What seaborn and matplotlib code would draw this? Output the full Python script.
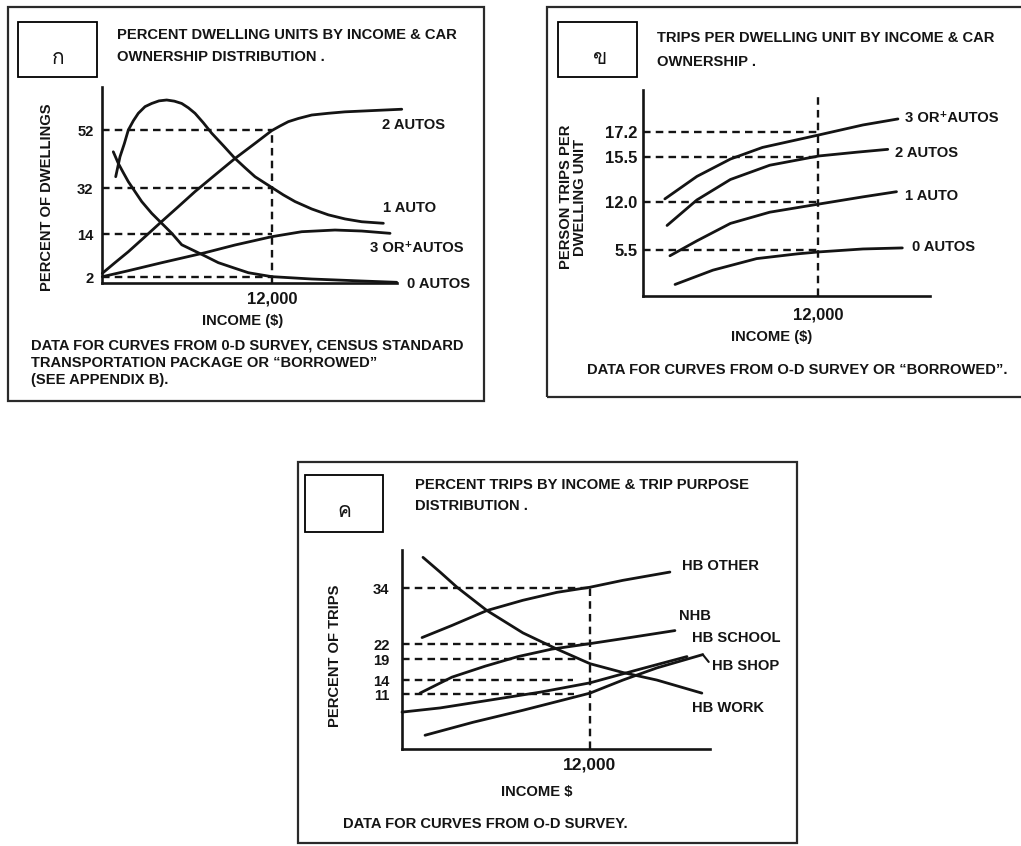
import numpy as np
import pandas as pd
import matplotlib
matplotlib.use("Agg")
import matplotlib.pyplot as plt
import seaborn as sns
from matplotlib import font_manager, ft2font
from matplotlib.patches import Rectangle

# ---------------------------------------------------------------- data
INCOME_MARK = 12000
INCOME_LABEL = "12,000"

# Panel ก : percent of dwellings by income & car ownership
A_TICKS = [2, 14, 32, 52]
A_SCALE_V = [0, 2, 14, 32, 52, 70]          # schematic (non-linear) value axis
A_SCALE_P = [0, 6, 49, 95, 153, 205]
A_0_X = [797, 1150, 1503, 1856, 2329, 2802, 3507, 4213, 4919, 5625, 7269, 8208,
         9386, 10325, 11270, 11976, 14799, 18327, 20797]
A_0_Y = [44.5, 40.5, 37.3, 34.2, 30.6, 26.7, 22.1, 18.2, 14.3, 11.0, 7.86, 6.0,
         4.43, 3.2, 2.56, 2.1, 1.33, 0.67, 0.23]
A_1_X = [967, 1270, 1575, 1856, 2211, 2562, 3035, 3507, 4023, 4566, 5105, 5625,
         6093, 6563, 7152, 7742, 8564, 9386, 10092, 10798, 11976, 12798, 13620,
         14799, 15970, 17149, 18327, 19852]
A_1_Y = [35.9, 42.8, 47.3, 52.0, 55.2, 57.8, 60.1, 61.2, 62.1, 62.4, 62.0, 61.2,
         59.7, 57.8, 54.5, 50.9, 46.6, 42.2, 39.0, 35.9, 32.2, 29.3, 26.7,
         23.8, 21.5, 19.9, 18.8, 18.2]
A_2_X = [21, 917, 1856, 3035, 4213, 5385, 6563, 7975, 9386, 10798, 11976, 12562,
         13148, 13853, 14799, 15970, 17149, 21150]
A_2_Y = [3.03, 6.0, 9.05, 13.25, 18.9, 24.7, 30.6, 36.5, 42.2, 47.4, 51.8, 53.4,
         54.9, 56.0, 57.2, 57.8, 58.3, 59.2]
A_3_X = [21, 1856, 4213, 7269, 9386, 11976, 14094, 16443, 18327, 20325]
A_3_Y = [2.08, 3.75, 5.99, 8.78, 10.93, 13.25, 14.90, 15.56, 15.17, 14.27]

# Panel ข : person trips per dwelling unit by income & car ownership
B_TICKS = [5.5, 12.0, 15.5, 17.2]
B_TICKLABELS = ["5.5", "12.0", "15.5", "17.2"]
B_SCALE_V = [0, 5.5, 12, 15.5, 17.2, 20]
B_SCALE_P = [0, 46, 94, 139, 164, 206]
B_0_X = [2200, 4800, 7800, 10600, 12070, 15100, 17800]
B_0_Y = [1.38, 3.09, 4.47, 5.04, 5.27, 5.64, 5.78]
B_1_X = [1850, 3700, 6000, 8700, 12070, 15100, 17400]
B_1_Y = [4.81, 6.74, 9.10, 10.62, 11.72, 12.40, 12.80]
B_2_X = [1650, 3700, 6000, 8700, 12070, 14700, 16800]
B_2_Y = [8.82, 12.16, 13.75, 14.86, 15.57, 15.83, 16.02]
B_3_X = [1500, 3700, 6000, 8200, 12070, 15100, 17500]
B_3_Y = [12.24, 13.99, 15.34, 16.15, 17.0, 17.67, 18.07]
B_VLINE_TOP = 19.5

# Panel ค : percent trips by income & trip purpose
C_TICKS = [11, 14, 19, 22, 34]
C_SCALE_V = [-1, 11, 14, 19, 22, 34, 44]
C_SCALE_P = [-0.6, 55, 69, 90, 105, 161, 207]
C_DASH_END = [11000, 10900, 11200, 12000, 12000]
C_OTHER_X = [1280, 3190, 5420, 7720, 9890, 12000, 14100, 17100]
C_OTHER_Y = [23.4, 26.0, 29.2, 31.4, 33.1, 34.2, 35.7, 37.5]
C_NHB_X = [1150, 3190, 5300, 7400, 9570, 12000, 14550, 17420]
C_NHB_Y = [11.2, 14.7, 17.3, 19.5, 21.0, 22.1, 23.4, 24.9]
C_SCHOOL_X = [0, 2430, 5620, 8810, 12000, 15190, 18190]
C_SCHOOL_Y = [7.1, 8.0, 9.7, 11.4, 13.4, 16.6, 19.5]
C_SHOP_X = [1470, 4530, 7720, 10270, 12000, 14100, 16270, 19200]
C_SHOP_Y = [2.1, 4.9, 7.5, 9.7, 11.2, 14.0, 16.9, 19.9]
C_WORK_X = [1340, 2430, 3510, 5420, 7720, 9890, 12000, 14100, 16270, 19140]
C_WORK_Y = [40.7, 37.5, 34.2, 29.2, 24.4, 21.0, 17.9, 15.8, 14.0, 11.2]

# ---------------------------------------------------------------- style
sns.set_style("white")
FONT = ["Liberation Sans", "DejaVu Sans"]
plt.rcParams["font.family"] = FONT
plt.rcParams["font.weight"] = "bold"
INK = "#141414"
FS = 10.6


def thai_font():
    for f in font_manager.fontManager.ttflist:
        try:
            if 0x0E01 in ft2font.FT2Font(f.fname).get_charmap():
                return f.name
        except Exception:
            continue
    return "DejaVu Sans"


THAI = [thai_font(), "DejaVu Sans"]

W, H = 1021, 846
fig = plt.figure(figsize=(W / 100, H / 100), dpi=100)
fig.patch.set_facecolor("white")


def ptext(x, y, s, size=FS, ha="left", va="center", rot=0, family=None,
          weight="bold", **kw):
    return fig.text(x / W, 1 - y / H, s, fontsize=size, ha=ha, va=va,
                    rotation=rot, family=family or FONT, color=INK,
                    fontweight=weight, **kw)


def frame(l, t, r, b, lw=1.6, ec="#2a2a2a"):
    fig.add_artist(Rectangle((l / W, 1 - b / H), (r - l) / W, (b - t) / H,
                             transform=fig.transFigure, fill=False, lw=lw,
                             ec=ec, clip_on=False))


def piecewise(V, P):
    V = np.asarray(V, float)
    P = np.asarray(P, float)
    s0 = (P[1] - P[0]) / (V[1] - V[0])
    s1 = (P[-1] - P[-2]) / (V[-1] - V[-2])

    def fwd(v):
        v = np.asarray(v, float)
        out = np.interp(v, V, P)
        out = np.where(v < V[0], P[0] + (v - V[0]) * s0, out)
        return np.where(v > V[-1], P[-1] + (v - V[-1]) * s1, out)

    def inv(p):
        p = np.asarray(p, float)
        out = np.interp(p, P, V)
        out = np.where(p < P[0], V[0] + (p - P[0]) / s0, out)
        return np.where(p > P[-1], V[-1] + (p - P[-1]) / s1, out)

    return fwd, inv


def make_axes(l, t, r, b, V, P):
    ax = fig.add_axes([l / W, 1 - b / H, (r - l) / W, (b - t) / H])
    ax.set_facecolor("none")
    ax.set_yscale("function", functions=piecewise(V, P))
    return ax


def finish_axes(ax, xlim, ylim, ticks, labels, spine_end, ypad, xpad, ysize, xsize):
    ax.set_xlim(*xlim)
    ax.set_ylim(*ylim)
    ax.set_yticks(ticks)
    ax.set_yticklabels(labels)
    ax.set_xticks([INCOME_MARK])
    ax.set_xticklabels([INCOME_LABEL])
    ax.tick_params(axis="y", length=0, labelsize=ysize, pad=ypad, colors=INK)
    ax.tick_params(axis="x", length=0, labelsize=xsize, pad=xpad, colors=INK)
    for lbl in ax.get_xticklabels() + ax.get_yticklabels():
        lbl.set_fontweight("bold")
    ax.minorticks_off()
    for s in ("top", "right"):
        ax.spines[s].set_visible(False)
    for s in ("left", "bottom"):
        ax.spines[s].set_linewidth(1.9)
        ax.spines[s].set_color(INK)
    ax.spines["bottom"].set_bounds(0, spine_end)
    ax.set_xlabel("")
    ax.set_ylabel("")
    ax.grid(False)


def curves(ax, series):
    rows = []
    for name, xs, ys in series:
        rows += [{"income": x, "value": y, "series": name} for x, y in zip(xs, ys)]
    df = pd.DataFrame(rows)
    sns.lineplot(data=df, x="income", y="value", units="series", estimator=None,
                 color=INK, lw=2.0, sort=False, ax=ax, legend=False,
                 solid_capstyle="round", solid_joinstyle="round")
    for line in ax.lines:
        line.set_clip_on(False)


def dashed(ax, xs, ys):
    ax.plot(xs, ys, color=INK, lw=1.7, dashes=(3.2, 2.2), clip_on=False)


# ================================================================ panel ก
frame(8, 7, 484, 401)
frame(18, 22, 97, 77, lw=1.3, ec="black")
ptext(58, 58, "ก", size=15, ha="center", family=THAI, weight="normal")
ptext(117, 35, "PERCENT DWELLING UNITS BY INCOME & CAR")
ptext(117, 57, "OWNERSHIP DISTRIBUTION .")

axA = make_axes(102, 87, 406.7, 283, A_SCALE_V, A_SCALE_P)
for lvl in A_TICKS:
    dashed(axA, [0, INCOME_MARK], [lvl, lvl])
dashed(axA, [INCOME_MARK, INCOME_MARK], [0, max(A_TICKS)])
curves(axA, [("0 AUTOS", A_0_X, A_0_Y), ("1 AUTO", A_1_X, A_1_Y),
             ("2 AUTOS", A_2_X, A_2_Y), ("3 OR+ AUTOS", A_3_X, A_3_Y)])
finish_axes(axA, (0, 21500), (0, 66.9), A_TICKS, [str(t) for t in A_TICKS],
            20800, 6, 6, FS, 12)

ptext(382, 125, "2 AUTOS")
ptext(383, 208, "1 AUTO")
ptext(370, 248, "3 OR⁺AUTOS")
ptext(407, 284, "0 AUTOS")
ptext(243, 321, "INCOME ($)", ha="center")
ptext(47, 197, "PERCENT OF DWELLINGS", rot=90, ha="center")
ptext(31, 345, "DATA FOR CURVES FROM 0-D SURVEY, CENSUS STANDARD")
ptext(31, 363, "TRANSPORTATION PACKAGE OR “BORROWED”")
ptext(31, 380, "(SEE APPENDIX B).")

# ================================================================ panel ข
frame(547, 7, 1030, 397)
frame(558, 22, 637, 77, lw=1.3, ec="black")
ptext(600, 58, "ข", size=15, ha="center", family=THAI, weight="normal")
ptext(657, 38, "TRIPS PER DWELLING UNIT BY INCOME & CAR")
ptext(657, 62, "OWNERSHIP .")

axB = make_axes(643, 90, 930, 296, B_SCALE_V, B_SCALE_P)
for lvl in B_TICKS:
    dashed(axB, [0, INCOME_MARK], [lvl, lvl])
dashed(axB, [INCOME_MARK, INCOME_MARK], [0, B_VLINE_TOP])
curves(axB, [("0 AUTOS", B_0_X, B_0_Y), ("1 AUTO", B_1_X, B_1_Y),
             ("2 AUTOS", B_2_X, B_2_Y), ("3 OR+ AUTOS", B_3_X, B_3_Y)])
finish_axes(axB, (0, 19700), (0, 20), B_TICKS, B_TICKLABELS, 19700, 4, 8, 12, 12)

ptext(905, 118, "3 OR⁺AUTOS")
ptext(895, 153, "2 AUTOS")
ptext(905, 196, "1 AUTO")
ptext(912, 247, "0 AUTOS")
ptext(772, 337, "INCOME ($)", ha="center")
ptext(573, 197, "PERSON TRIPS PER\nDWELLING UNIT", rot=90, ha="center",
      multialignment="center", linespacing=0.95)
ptext(587, 370, "DATA FOR CURVES FROM O-D SURVEY OR “BORROWED”.")

# ================================================================ panel ค
frame(298, 462, 797, 843)
frame(305, 475, 383, 532, lw=1.3, ec="black")
ptext(344, 511, "ค", size=15, ha="center", family=THAI, weight="normal")
ptext(415, 485, "PERCENT TRIPS BY INCOME & TRIP PURPOSE")
ptext(415, 506, "DISTRIBUTION .")

axC = make_axes(402, 550, 710, 749, C_SCALE_V, C_SCALE_P)
for lvl, end in zip(C_TICKS, C_DASH_END):
    dashed(axC, [0, end], [lvl, lvl])
dashed(axC, [INCOME_MARK, INCOME_MARK], [-0.87, max(C_TICKS)])
curves(axC, [("HB OTHER", C_OTHER_X, C_OTHER_Y), ("NHB", C_NHB_X, C_NHB_Y),
             ("HB SCHOOL", C_SCHOOL_X, C_SCHOOL_Y), ("HB SHOP", C_SHOP_X, C_SHOP_Y),
             ("HB WORK", C_WORK_X, C_WORK_Y)])
finish_axes(axC, (0, 19660), (-0.87, 42.3), C_TICKS, [str(t) for t in C_TICKS],
            19660, 9, 6, FS, 12.5)

ptext(682, 566, "HB OTHER")
ptext(679, 616, "NHB")
ptext(692, 638, "HB SCHOOL")
axC.annotate("HB SHOP", xy=(C_SHOP_X[-1], C_SHOP_Y[-1]),
             xytext=(712 / W, 1 - 666 / H), textcoords="figure fraction",
             ha="left", va="center", fontsize=FS, fontweight="bold", color=INK,
             arrowprops=dict(arrowstyle="-", lw=1.5, color=INK, relpos=(0, 0.5),
                             shrinkA=0, shrinkB=0), annotation_clip=False)
ptext(692, 708, "HB WORK")
ptext(537, 792, "INCOME $", ha="center")
ptext(335, 656, "PERCENT OF TRIPS", rot=90, ha="center")
ptext(343, 824, "DATA FOR CURVES FROM O-D SURVEY.")

fig.savefig("out.png", dpi=100, facecolor="white")
